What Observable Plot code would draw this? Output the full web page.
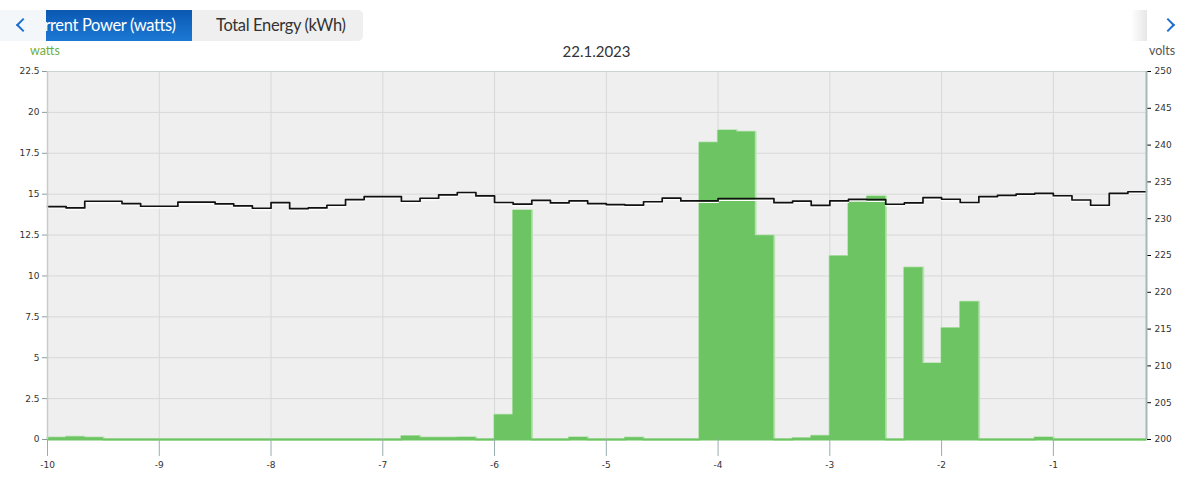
<!DOCTYPE html>
<html><head><meta charset="utf-8">
<script src="https://cdn.jsdelivr.net/npm/d3@7"></script>
<script src="https://cdn.jsdelivr.net/npm/@observablehq/plot@0.6"></script>
<style>
body{margin:0;background:#fff;font-family:Lato,"Open Sans",sans-serif;}
#wrap{position:relative;width:1199px;height:477px;overflow:hidden;}
#header{position:relative;height:60px;width:1199px;}
.abs{position:absolute;white-space:nowrap;}
#tabbar{position:absolute;left:0;top:10px;width:363px;height:31px;background:#efefef;border-radius:0 5px 5px 0;overflow:hidden;}
.tab{font-size:16.5px;letter-spacing:-0.35px;top:5px;}
.chev{position:absolute;width:8px;height:8px;border-left:2.5px solid #1b6fcf;border-bottom:2.5px solid #1b6fcf;}
#chart svg{display:block;}
</style></head><body>
<div id="wrap">
  <div id="header">
    <div id="tabbar">
      <div class="abs" style="left:46px;top:0;width:146px;height:31px;background:linear-gradient(180deg,#0a58b2,#1c79d4);"></div>
      <div class="abs tab" style="left:25px;color:#fff;">Current Power (watts)</div>
      <div class="abs tab" style="left:216px;color:#333;">Total Energy (kWh)</div>
      <div class="abs" style="left:0;top:0;width:46px;height:31px;background:rgba(244,247,251,0.9);"></div>
      <div class="chev" style="left:18px;top:10px;transform:rotate(45deg);"></div>
    </div>
    <div class="abs" style="left:1131px;top:10px;width:16px;height:31px;background:linear-gradient(90deg,rgba(255,255,255,0),#e6e6e6);"></div>
    <div class="chev" style="left:1163px;top:20px;transform:rotate(-135deg);"></div>
    <div class="abs" style="left:30px;top:43px;color:#6fae45;font-size:12.5px;">watts</div>
    <div class="abs" style="left:0;width:1193px;top:42px;text-align:center;color:#333;font-size:15px;">22.1.2023</div>
    <div class="abs" style="left:1149px;top:43px;color:#555;font-size:12.5px;">volts</div>
  </div>
  <div id="chart"></div>
</div>
<script>
// 10-minute bins (hours relative to now)
const binStart = -10;
const binHours = 1/6;
const watts = [
  0.1, 0.15, 0.1, 0, 0, 0, 0, 0, 0, 0,
  0, 0, 0, 0, 0, 0, 0, 0, 0, 0.2,
  0.1, 0.1, 0.12, 0, 1.5, 14.0, 0, 0, 0.12, 0,
  0, 0.1, 0, 0, 0, 18.15, 18.9, 18.8, 12.45, 0,
  0.08, 0.22, 11.2, 14.5, 14.85, 0, 10.5, 4.65, 6.8, 8.4,
  0, 0, 0, 0.12, 0, 0, 0, 0, 0
];
const volts = [
  231.65, 231.46, 232.37, 232.37, 232.06, 231.69, 231.69, 232.24, 232.24, 232.01,
  231.74, 231.42, 232.19, 231.37, 231.46, 231.83, 232.6, 233.0, 233.0, 232.37,
  232.78, 233.24, 233.56, 233.1, 232.2, 231.97, 232.5, 232.15, 232.42, 232.05,
  231.9, 231.85, 232.3, 232.8, 232.42, 232.42, 232.72, 232.72, 232.72, 232.18,
  232.4, 231.8, 232.42, 232.62, 232.58, 231.96, 232.15, 232.85, 232.64, 232.2,
  233.0, 233.18, 233.35, 233.44, 233.12, 232.54, 231.83, 233.44, 233.66
];
const wattTicks = [0, 2.5, 5, 7.5, 10, 12.5, 15, 17.5, 20, 22.5];
const voltTicks = [200, 205, 210, 215, 220, 225, 230, 235, 240, 245, 250];
const hourTicks = [-10, -9, -8, -7, -6, -5, -4, -3, -2, -1];

const wMax = 22.5, vMin = 200, vMax = 250;
const toW = v => (v - vMin) * wMax / (vMax - vMin);
const toV = w => Math.round(w * (vMax - vMin) / wMax + vMin);
const xEnd = binStart + watts.length * binHours;

const wline = watts.map((w, i) => ({x: binStart + i * binHours, w}));
wline.push({x: xEnd, w: watts[watts.length - 1]});
const vline = volts.map((v, i) => ({x: binStart + i * binHours, v}));
vline.push({x: xEnd, v: volts[volts.length - 1]});

const chart = Plot.plot({
  width: 1199, height: 417,
  marginTop: 11, marginBottom: 38, marginLeft: 47, marginRight: 53,
  x: {domain: [binStart, xEnd], label: null},
  y: {domain: [0, wMax], label: null},
  style: {fontFamily: "DejaVu Sans", fontSize: "9px", color: "#333", background: "transparent", overflow: "visible"},
  marks: [
    Plot.frame({fill: "#efefef", stroke: null}),
    Plot.gridY(wattTicks, {stroke: "#d8d8d8", strokeOpacity: 1}),
    Plot.gridX(hourTicks, {stroke: "#d8d8d8", strokeOpacity: 1}),
    Plot.ruleY([wMax], {stroke: "#c9d3d1"}),
    Plot.line(wline, {x: "x", y: "w", curve: "step-after", stroke: "#b9e2b2", strokeWidth: 2.5}),
    Plot.areaY(wline, {x: "x", y: "w", curve: "step-after", fill: "#6dc462", fillOpacity: 1}),
    Plot.ruleY([0], {stroke: "#6dc462", strokeWidth: 2}),
    Plot.line(vline, {x: "x", y: d => toW(d.v), curve: "step-after", stroke: "#fff", strokeWidth: 1.2, dy: 1.6}),
    Plot.line(vline, {x: "x", y: d => toW(d.v), curve: "step-after", stroke: "#111", strokeWidth: 1.7}),
    Plot.axisX(hourTicks, {label: null, tickSize: 17, tickPadding: 5, stroke: "#9aacac", fill: "#333", tickFormat: d => String(d)}),
    Plot.axisY(wattTicks, {anchor: "left", label: null, tickSize: 5, tickPadding: 3, stroke: "#8c9b9b", fill: "#333", tickFormat: d => String(d)}),
    Plot.axisY(voltTicks.map(toW), {anchor: "right", label: null, tickSize: 4, tickPadding: 4, stroke: "#000", fill: "#333", tickFormat: d => String(toV(d))}),
    Plot.ruleX([binStart], {stroke: "#c3cfcc", strokeWidth: 1.5}),
    Plot.ruleX([xEnd], {stroke: "#a6b8b8", strokeWidth: 2})
  ]
});
document.getElementById("chart").appendChild(chart);
</script>
</body></html>
